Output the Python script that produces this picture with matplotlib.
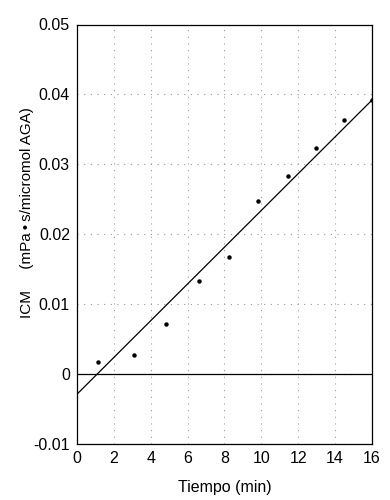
import numpy as np
import matplotlib
matplotlib.use("Agg")
import matplotlib.pyplot as plt

plt.rcParams['font.family'] = ['Liberation Sans', 'DejaVu Sans']

# data
tiempo = [1.16, 3.1, 4.82, 6.6, 8.26, 9.8, 11.43, 12.97, 14.47, 15.98]
icm = [0.0017, 0.0028, 0.0072, 0.0133, 0.0168, 0.0248, 0.0284, 0.0323, 0.0363, 0.0392]

# fitted line end points
line_x = [0, 16]
line_y = [-0.0029, 0.0392]

x_ticks = [0, 2, 4, 6, 8, 10, 12, 14, 16]
y_ticks = [-0.01, 0, 0.01, 0.02, 0.03, 0.04, 0.05]
y_labels = ['-0.01', '0', '0.01', '0.02', '0.03', '0.04', '0.05']

fig = plt.figure(figsize=(3.9, 5.0), dpi=100)
ax = fig.add_axes([0.197, 0.112, 0.757, 0.839])

ax.plot(line_x, line_y, 'k-', lw=0.9)
ax.plot(tiempo, icm, 'ko', markersize=2.2)
ax.axhline(0, color='k', lw=0.9)

ax.set_xlim(0, 16)
ax.set_ylim(-0.01, 0.05)
ax.set_xticks(x_ticks)
ax.set_yticks(y_ticks)
ax.set_yticklabels(y_labels)
ax.tick_params(length=0, labelsize=11.5, pad=5)
ax.grid(True, color='#999999', linestyle=(0, (1, 5)), lw=0.8)
for s in ax.spines.values():
    s.set_linewidth(0.9)

ax.set_xlabel('Tiempo (min)', fontsize=11.5, labelpad=10)
fig.text(27 / 390, 1 - 213 / 500, 'ICM     (mPa\u2009\u2022\u2009s/micromol AGA)',
         rotation=90, ha='center', va='center', fontsize=11)

fig.savefig('out.png', dpi=100)
